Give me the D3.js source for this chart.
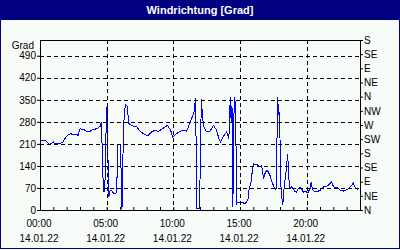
<!DOCTYPE html>
<html>
<head>
<meta charset="utf-8">
<script src="https://cdn.jsdelivr.net/npm/d3@7"></script>
<style>
body { margin:0; padding:0; background:#f8fcf8; }
svg { display:block; }
</style>
</head>
<body>
<div class="chart"></div>
<script>
var title = "Windrichtung [Grad]";
var unitLabel = "Grad";
var dateLabel = "14.01.22";
var leftTicks = [0, 70, 140, 210, 280, 350, 420, 490];
var compassLabels = ["N","NE","E","SE","S","SW","W","NW","N","NE","E","SE","S"];
var majorHours = [0, 5, 10, 15, 20];
// minutes since 00:00 and wind direction in degrees
var minutes = [0,10,20,30,42,52,60,67,78,90,102,112,127,138,150,165,172,180,195,210,225,240,255,270,277,
	282,288,294,298,302,305,310,316,322,333,345,350,360,364,369,375,380,386,393,399,
	412,435,450,472,487,502,517,532,547,562,574,588,597,615,630,645,660,670,682,693,700,706,717,
	720,726,732,738,750,765,780,795,807,813,828,840,850,854,857,860,864,868,872,876,880,885,890,
	907,922,930,937,942,948,952,960,967,978,987,993,997,1002,1005,1012,1020,1027,1035,1042,1050,1057,1062,
	1065,1069,1074,1077,1080,1083,1087,1092,1095,1099,1107,1111,1114,1117,1120,1125,1132,1140,1147,1155,
	1162,1170,1177,1185,1192,1200,1207,1215,1221,1225,1230,1237,1245,1252,1260,1267,1275,1282,1290,1297,
	1305,1312,1320,1327,1335,1342,1350,1357,1365,1372,1380,1387,1395,1402,1410,1417,1425,1432];
var direction = [222,222,221,218,207,212,216,210,210,212,215,227,239,242,240,240,237,258,256,250,250,256,258,265,280,
	117,58,106,290,333,190,42,63,62,52,55,209,209,150,4,233,318,333,330,276,
	268,264,250,239,237,248,253,250,256,264,269,253,232,243,250,253,250,269,290,311,356,4,5,
	95,354,290,264,248,250,269,253,221,216,237,248,227,320,358,280,330,8,290,358,330,20,25,
	25,20,25,36,73,78,105,147,145,144,137,137,140,121,100,115,126,121,110,94,78,68,66,
	142,359,301,310,228,89,47,15,36,75,121,152,179,147,100,68,73,68,59,57,
	68,73,68,57,59,57,57,68,89,68,62,59,59,60,62,68,73,75,75,78,
	84,91,75,70,73,68,64,62,60,62,64,68,73,78,86,73,68,62];

var W = 400, H = 250;
var plotLeft = 40, plotRight = 360, plotTop = 40, plotBottom = 210;
var font = "'Liberation Sans', Arial, sans-serif";

var svg = d3.select(".chart").append("svg")
	.attr("width", W)
	.attr("height", H);

//frame
svg.append("rect")
	.attr("x", 0.5).attr("y", 0.5)
	.attr("width", W - 1).attr("height", H - 2)
	.attr("fill", "#f8fcf8")
	.attr("stroke", "#000080");
svg.append("rect")
	.attr("x", 0).attr("y", 0)
	.attr("width", W).attr("height", 20)
	.attr("fill", "#000080");
svg.append("text")
	.text(title)
	.attr("x", W / 2).attr("y", 14)
	.attr("text-anchor", "middle")
	.attr("fill", "#ffffff")
	.style("font", "bold 11px " + font);

var x = d3.scaleLinear().domain([0, 1440]).range([plotLeft, plotRight]);
var y = d3.scaleLinear().domain([0, 540]).range([plotBottom, plotTop]);

//line
var line = d3.line()
	.x(function(d, i){ return x(minutes[i]); })
	.y(function(d){ return y(d); });
svg.append("path")
	.datum(direction)
	.attr("d", line)
	.attr("fill", "none")
	.attr("stroke", "#0000ff")
	.attr("stroke-width", 1)
	.attr("shape-rendering", "crispEdges");

//grid
var grid = svg.append("g");
grid.selectAll(".hg").data(leftTicks.filter(function(d){ return d > 0; }))
	.enter().append("line")
		.attr("x1", plotLeft).attr("x2", plotRight)
		.attr("y1", function(d){ return Math.round(y(d)) + 0.5; })
		.attr("y2", function(d){ return Math.round(y(d)) + 0.5; })
		.attr("stroke", "#000")
		.attr("stroke-dasharray", "4,3");
grid.selectAll(".vg").data(majorHours.filter(function(d){ return d > 0; }))
	.enter().append("line")
		.attr("x1", function(d){ return Math.round(x(d * 60)) + 0.5; })
		.attr("x2", function(d){ return Math.round(x(d * 60)) + 0.5; })
		.attr("y1", plotTop).attr("y2", plotBottom)
		.attr("stroke", "#000")
		.attr("stroke-dasharray", "4,3");
svg.append("line")
	.attr("x1", plotLeft).attr("x2", plotRight)
	.attr("y1", plotTop + 0.5).attr("y2", plotTop + 0.5)
	.attr("stroke", "#000");

//axes
svg.append("g")
	.attr("transform", "translate(" + plotLeft + ",0)")
	.call(d3.axisLeft(y).tickValues(leftTicks).tickSize(3).tickSizeOuter(0).tickPadding(1));
svg.append("g")
	.attr("transform", "translate(" + plotRight + ",0)")
	.call(d3.axisRight(y).tickValues(d3.range(compassLabels.length).map(function(i){ return i * 45; }))
		.tickFormat(function(d){ return compassLabels[d / 45]; })
		.tickSize(3).tickSizeOuter(0).tickPadding(1));
svg.append("g")
	.attr("transform", "translate(0," + plotBottom + ")")
	.call(d3.axisBottom(x).tickValues(d3.range(0, 25).map(function(h){ return h * 60; }))
		.tickFormat("").tickSize(-3).tickSizeOuter(0));
svg.selectAll(".tick text").style("font", "10px " + font).attr("fill", "#000");
svg.selectAll(".domain").attr("stroke", "#000");

svg.append("text")
	.text(unitLabel)
	.attr("x", 34).attr("y", 49)
	.attr("text-anchor", "end")
	.style("font", "10px " + font);

var hourLabels = svg.append("g");
hourLabels.selectAll(".hl").data(majorHours)
	.enter().append("text")
		.text(function(d){ return (d < 10 ? "0" : "") + d + ":00"; })
		.attr("x", function(d){ return x(d * 60) - 1; })
		.attr("y", 227)
		.attr("text-anchor", "middle")
		.style("font", "10px " + font);
hourLabels.selectAll(".dl").data(majorHours)
	.enter().append("text")
		.text(dateLabel)
		.attr("x", function(d){ return x(d * 60) - 1; })
		.attr("y", 242)
		.attr("text-anchor", "middle")
		.style("font", "10px " + font);
</script>
</body>
</html>
